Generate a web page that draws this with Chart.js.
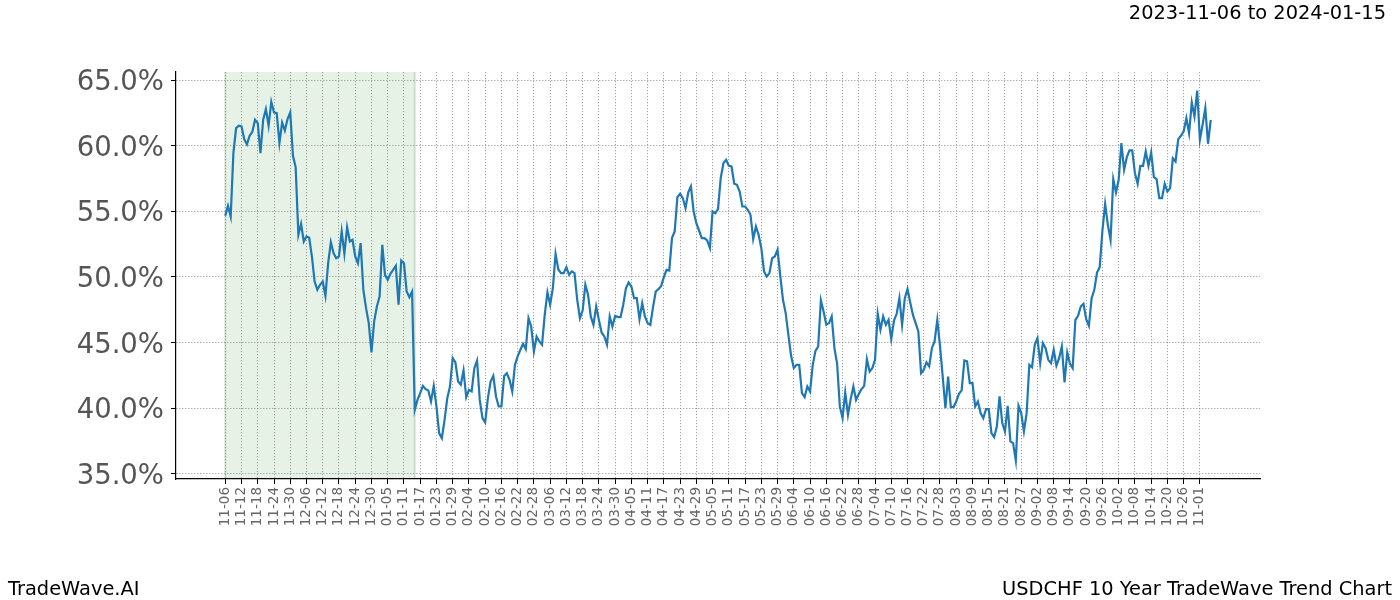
<!DOCTYPE html>
<html>
<head>
<meta charset="utf-8">
<script src="https://cdn.jsdelivr.net/npm/chart.js@4/dist/chart.umd.min.js"></script>
<style>
  html, body { margin: 0; padding: 0; background: #fff; }
  #wrap { position: relative; width: 1400px; height: 600px; font-family: "DejaVu Sans", sans-serif; }
  #c { position: absolute; left: 0; top: 0; }
  .txt { position: absolute; font-size: 19.4px; color: #000; white-space: nowrap; line-height: 1; }
</style>
</head>
<body>
<div id="wrap">
  <canvas id="c" width="1400" height="600"></canvas>
  <div class="txt" id="range" style="right:14px; top:3px;"></div>
  <div class="txt" id="brand" style="left:8px; top:579px;"></div>
  <div class="txt" id="ctitle" style="right:8px; top:579px;"></div>
</div>
<script>
// ---- Data ----
const rangeText = "2023-11-06 to 2024-01-15";
const brandText = "TradeWave.AI";
const chartTitle = "USDCHF 10 Year TradeWave Trend Chart";

// daily values (%) starting 11-06, one per day
const values = [
  54.66,55.42,54.6,59.44,61.34,61.52,61.47,60.5,60.1,60.76,
  61.06,61.98,61.72,59.44,61.98,62.79,61.52,63.35,62.54,62.48,
  60.2,61.77,61.16,62.03,62.54,59.23,58.37,53.21,54.05,52.7,
  53.08,52.98,51.56,49.65,49.02,49.4,49.65,48.56,51.05,52.65,
  51.81,51.43,51.56,53.47,51.76,53.8,52.7,52.83,51.56,51.05,
  52.58,49.02,47.62,46.48,44.24,46.61,47.75,48.51,52.45,50.16,
  49.78,50.24,50.54,50.85,47.88,51.26,51.05,48.89,48.46,48.89,
  39.87,40.63,41.14,41.7,41.45,41.35,40.51,41.7,40.13,38.1,
  37.71,39.11,40.76,41.65,43.81,43.48,42.03,41.78,42.87,40.84,
  41.4,41.27,43.05,43.63,40.63,39.24,38.91,40.76,42.03,42.46,
  40.89,40.13,40.13,42.46,42.67,42.16,41.27,43.3,43.94,44.45,
  44.9,44.5,46.86,46.22,44.32,45.46,45.08,44.83,47.11,48.82,
  47.88,49.15,51.76,50.59,50.29,50.29,50.75,50.16,50.42,50.29,
  48.26,46.86,47.44,49.4,48.64,46.99,46.35,47.75,46.73,45.77,
  45.46,44.83,46.99,46.22,47.04,46.94,46.94,47.88,49.15,49.58,
  49.27,48.38,48.38,46.78,48.0,46.99,46.48,46.35,47.7,48.89,
  49.07,49.32,49.98,50.54,50.49,52.96,53.47,56.08,56.34,56.01,
  55.24,56.44,56.9,54.99,54.1,53.54,52.96,52.96,52.78,52.2,
  54.99,54.86,55.17,57.53,58.67,58.93,58.47,58.42,57.1,57.02,
  56.51,55.37,55.37,55.12,54.74,52.88,53.85,53.21,52.2,50.42,
  50.04,50.29,51.43,51.56,52.07,50.09,48.26,47.24,45.59,43.99,
  43.05,43.3,43.3,41.14,40.84,41.65,41.27,43.3,44.37,44.7,
  48.21,47.37,46.35,46.48,46.99,44.57,43.38,40.13,39.24,41.19,
  39.49,40.69,41.65,40.63,41.09,41.45,41.7,43.73,42.79,43.05,
  43.68,47.19,45.97,46.99,46.35,46.73,45.26,46.68,47.19,48.38,
  46.35,48.38,49.07,48.05,47.11,46.48,45.84,42.67,42.92,43.48,
  43.18,44.57,45.08,46.73,44.75,42.41,40.0,42.41,40.08,40.08,
  40.51,41.09,41.35,43.63,43.56,41.91,41.91,40.13,40.51,39.62,
  39.24,39.92,39.92,38.1,37.79,38.6,40.89,38.86,38.22,40.18,
  37.46,37.33,36.01,40.18,39.62,38.22,39.62,43.3,43.12,44.83,
  45.33,43.43,44.95,44.57,43.68,43.43,44.45,43.23,43.81,44.7,
  41.96,44.24,43.38,43.05,46.73,47.04,47.75,47.95,46.78,46.28,
  48.38,49.02,50.34,50.75,53.54,55.57,53.97,52.83,57.45,56.44,
  57.4,60.2,58.17,59.13,59.64,59.64,57.91,57.1,58.47,58.47,
  59.56,58.47,59.49,57.61,57.45,56.01,56.01,57.1,56.51,56.77,
  59.05,58.8,60.5,60.76,61.09,62.1,60.96,63.3,62.23,64.21,
  60.45,61.6,62.87,60.15,61.98
];

// x tick labels, one every 6 days starting at day 0
const tickLabels = [
  "11-06","11-12","11-18","11-24","11-30","12-06","12-12","12-18","12-24","12-30",
  "01-05","01-11","01-17","01-23","01-29","02-04","02-10","02-16","02-22","02-28",
  "03-06","03-12","03-18","03-24","03-30","04-05","04-11","04-17","04-23","04-29",
  "05-05","05-11","05-17","05-23","05-29","06-04","06-10","06-16","06-22","06-28",
  "07-04","07-10","07-16","07-22","07-28","08-03","08-09","08-15","08-21","08-27",
  "09-02","09-08","09-14","09-20","09-26","10-02","10-08","10-14","10-20","10-26",
  "11-01"
];
const tickStep = 6;

// y ticks (%)
const yTicks = [35, 40, 45, 50, 55, 60, 65];

// highlighted period (day index range)
const shadeStart = 0;
const shadeEnd = 70;

// ---- Chart ----
document.getElementById('range').textContent = rangeText;
document.getElementById('brand').textContent = brandText;
document.getElementById('ctitle').textContent = chartTitle;

const points = values.map((v, i) => ({ x: i, y: v }));
const n = values.length - 1;
const xMargin = n * 0.05;
const yMin = Math.min(...values), yMax = Math.max(...values);
const yMargin = (yMax - yMin) * 0.05;

const shadePlugin = {
  id: 'shade',
  beforeDraw(chart) {
    const { ctx, chartArea, scales } = chart;
    const x0 = scales.x.getPixelForValue(shadeStart);
    const x1 = scales.x.getPixelForValue(shadeEnd);
    ctx.save();
    ctx.fillStyle = 'rgba(0,128,0,0.1)';
    ctx.fillRect(x0, chartArea.top, x1 - x0, chartArea.bottom - chartArea.top);
    ctx.strokeStyle = 'rgba(0,60,0,0.14)';
    ctx.lineWidth = 2;
    ctx.beginPath();
    ctx.moveTo(x0, chartArea.top); ctx.lineTo(x0, chartArea.bottom);
    ctx.moveTo(x1, chartArea.top); ctx.lineTo(x1, chartArea.bottom);
    ctx.stroke();
    ctx.restore();
  }
};

const gridOpts = {
  color: 'rgba(130,130,130,0.75)',
  lineWidth: 1,
  tickColor: '#000',
  tickLength: 5,
  tickWidth: 1
};

new Chart(document.getElementById('c'), {
  type: 'line',
  data: {
    datasets: [{
      data: points,
      borderColor: '#1f77b4',
      borderWidth: 2.2,
      pointRadius: 0,
      tension: 0,
      fill: false
    }]
  },
  options: {
    responsive: false,
    animation: false,
    devicePixelRatio: 1,
    layout: { padding: { left: 0, right: 140, top: 72, bottom: 0 } },
    plugins: { legend: { display: false }, tooltip: { enabled: false } },
    scales: {
      x: {
        type: 'linear',
        min: -xMargin,
        max: n + xMargin,
        afterBuildTicks(scale) {
          scale.ticks = tickLabels.map((_, i) => ({ value: i * tickStep }));
        },
        afterFit(scale) { scale.height = 121; },
        ticks: {
          autoSkip: false,
          minRotation: 90,
          maxRotation: 90,
          padding: 3,
          color: '#666',
          font: { family: 'DejaVu Sans', size: 13.5 },
          callback(v) {
            const i = Math.round(v / tickStep);
            return tickLabels[i] !== undefined ? tickLabels[i] : '';
          }
        },
        grid: gridOpts,
        border: { display: true, color: '#000', width: 1.2, dash: [1.2, 1.8] }
      },
      y: {
        type: 'linear',
        min: yMin - yMargin,
        max: yMax + yMargin,
        afterBuildTicks(scale) {
          scale.ticks = yTicks.map(v => ({ value: v }));
        },
        afterFit(scale) { scale.width = 176; },
        ticks: {
          padding: 7,
          labelOffset: 3,
          color: '#555',
          font: { family: 'DejaVu Sans', size: 27.5 },
          callback(v) { return v.toFixed(1) + '%'; }
        },
        grid: gridOpts,
        border: { display: true, color: '#000', width: 1.2, dash: [1.2, 1.8] }
      }
    }
  },
  plugins: [shadePlugin]
});
</script>
</body>
</html>
